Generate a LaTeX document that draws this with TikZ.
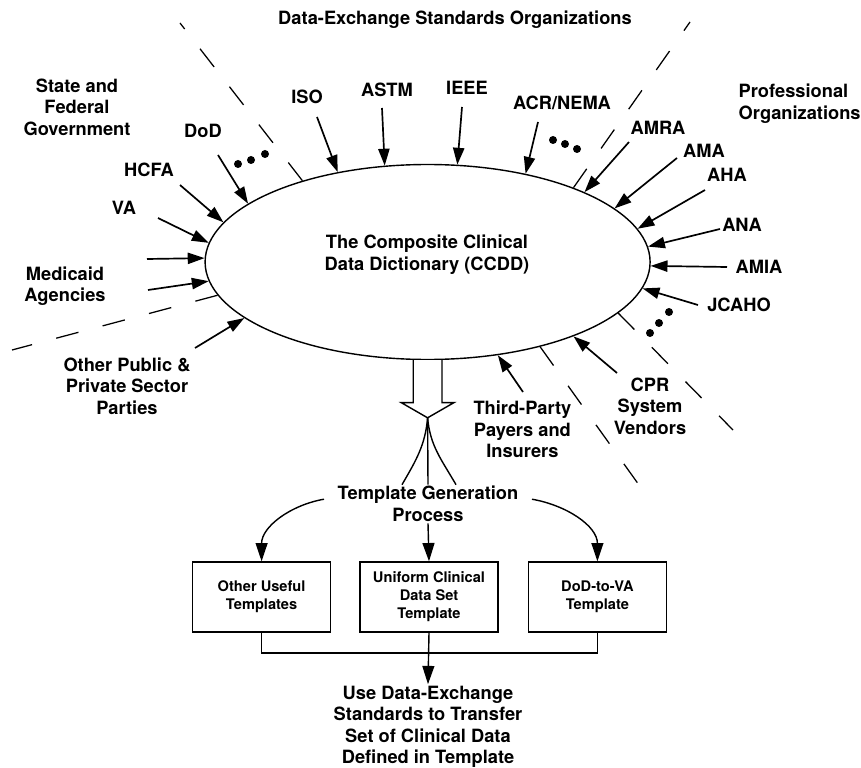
\documentclass[tikz,border=0pt]{standalone}
\usepackage{fontspec}
\setmainfont{TeX Gyre Heros}
\usetikzlibrary{arrows.meta,positioning}
\usetikzlibrary{shapes.geometric}

\begin{document}
\begin{tikzpicture}[
    party/.style={
        font=\fontsize{13}{15.3}\selectfont\bfseries,
        align=center,
        inner sep=1pt},
    tmplbox/.style={
        rectangle,
        draw=black,
        line width=1pt,
        minimum width=3.45cm,
        minimum height=1.75cm,
        align=center,
        font=\fontsize{10.4}{12.8}\selectfont\bfseries},
    dictellipse/.style={
        ellipse,
        draw=black,
        line width=1pt,
        inner sep=0pt,
        minimum width=11.125cm,
        minimum height=4.875cm},
    dotcircle/.style={
        circle,
        fill=black,
        inner sep=0pt,
        minimum size=0.2cm},
    feedarrow/.style={-{Triangle[length=12pt,width=8pt]},line width=1.2pt},
    flowarrow/.style={-{Triangle[length=13pt,width=8.5pt]},line width=1pt},
    plainline/.style={-,line width=1pt},
    borderline/.style={-,line width=0.9pt,dash pattern=on 0.575cm off 0.625cm}
]
\useasboundingbox (0,0) rectangle (21.525,-19.2);

\node[dictellipse] (ccdd) at (10.69,-6.55) {};
\node[party] (ccddtext) at (10.675,-6.37) {The Composite Clinical\\Data Dictionary (CCDD)};

% the three groups of parties
\node[party] (dxso) at (11.375,-0.5) {Data-Exchange Standards Organizations};
\node[party] (govt) at (1.925,-2.675) {State and\\Federal\\Government};
\node[party,align=left,anchor=west] (prof) at (18.425,-2.5875) {Professional\\Organizations};

\node[party] (dod) at (5.075,-3.275) {DoD};
\node[party] (hcfa) at (3.725,-4.25) {HCFA};
\node[party] (va) at (3.1,-5.2) {VA};
\node[party] (medicaid) at (1.625,-7.16) {Medicaid\\Agencies};
\node[party] (otherparties) at (3.175,-9.65) {Other Public \&\\Private Sector\\Parties};
\node[party] (iso) at (7.675,-2.425) {ISO};
\node[party] (astm) at (9.675,-2.25) {ASTM};
\node[party] (ieee) at (11.675,-2.2) {IEEE};
\node[party] (acr) at (14.05,-2.575) {ACR/NEMA};
\node[party] (amra) at (16.45,-3.2) {AMRA};
\node[party] (ama) at (17.6,-3.775) {AMA};
\node[party] (aha) at (18.175,-4.375) {AHA};
\node[party] (ana) at (18.55,-5.625) {ANA};
\node[party] (amia) at (18.975,-6.675) {AMIA};
\node[party] (jcaho) at (18.475,-7.625) {JCAHO};
\node[party] (payers) at (13.06,-10.74) {Third-Party\\Payers and\\Insurers};
\node[party] (vendors) at (16.25,-10.15) {CPR\\System\\Vendors};

% arrows into the dictionary
\foreach \n/\x/\y/\a in {
    isoT/7.925/-2.925/135, astmT/9.55/-2.7/114, ieeeT/11.55/-2.675/73, acrT/13.45/-3.05/42,
    amraT/15.725/-3.55/24, amaT/16.925/-3.95/16, ahaT/17.625/-4.75/9, anaT/18.0/-5.725/4,
    amiaT/18.175/-6.675/-1, jcahoT/17.45/-7.625/-7, vendorsT/15.425/-9.325/-27, payersT/13.075/-9.8/-53,
    othersT/4.875/-8.7/197, medicaidT/3.7/-7.25/185, extraT/3.675/-6.475/179, vaT/3.95/-5.45/175,
    hcfaT/4.5/-4.625/169, dodT/5.45/-3.875/162}{
    \coordinate (\n) at (\x,\y);
    \draw[feedarrow] (\n) -- (ccdd.\a);
}

% dashed group borders
\foreach \n/\x/\y/\a in {bordA/4.5/-0.575/147, bordB/17.25/-0.55/27, bordC/0.3/-8.75/189,
    bordD/18.325/-10.75/345, bordE/15.975/-12.125/323}{
    \coordinate (\n) at (\x,\y);
    \draw[borderline] (ccdd.\a) -- (\n);
}

\foreach \n/\x/\y in {dotA1/5.95/-4.1, dotA2/6.275/-4.0, dotA3/6.625/-3.85,
    dotB1/13.825/-3.5, dotB2/14.125/-3.6, dotB3/14.425/-3.725,
    dotC1/16.725/-7.8, dotC2/16.475/-8.075, dotC3/16.25/-8.325}{
    \node[dotcircle] (\n) at (\x,\y) {};
}

% hollow arrow out of the dictionary
\draw[line width=1pt,fill=white] ([xshift=-0.36cm]ccdd.south) -- ++(0,-1.06) -- ++(-0.3,0)
    -- ++(0.66,-0.38) -- ++(0.66,0.38) -- ++(-0.3,0) -- ([xshift=0.36cm]ccdd.south);
\coordinate (fork) at ([yshift=-1.44cm]ccdd.south);

\node[party] (tgp) at (10.7,-12.6) {Template Generation\\Process};

\draw[plainline] (fork) to[out=265,in=60] ([xshift=-0.65cm]tgp.north);
\draw[plainline] (fork) -- (tgp.north);
\draw[plainline] (fork) to[out=275,in=120] ([xshift=0.7cm]tgp.north);

\node[tmplbox] (uniform) at (10.725,-14.925) {Uniform Clinical\\Data Set\\Template};
\node[tmplbox,left=0.7cm of uniform] (otheruseful) {Other Useful\\Templates};
\node[tmplbox,right=0.725cm of uniform] (dodva) {DoD-to-VA\\Template};

\draw[flowarrow] ([xshift=-0.3cm,yshift=0.12cm]tgp.west) to[out=190,in=90] (otheruseful.north);
\draw[flowarrow] (tgp.south) -- (uniform.north);
\draw[flowarrow] ([xshift=0.3cm,yshift=0.12cm]tgp.east) to[out=-10,in=90] (dodva.north);

\node[party] (transfer) at (10.7,-18.17) {Use Data-Exchange\\Standards to Transfer\\Set of Clinical Data\\Defined in Template};

\coordinate (merge) at (uniform.south |- 0,-16.325);
\draw[plainline] (otheruseful.south) |- (merge) -| (dodva.south);
\draw[flowarrow] (uniform.south) -- (transfer.north);

\end{tikzpicture}
\end{document}
